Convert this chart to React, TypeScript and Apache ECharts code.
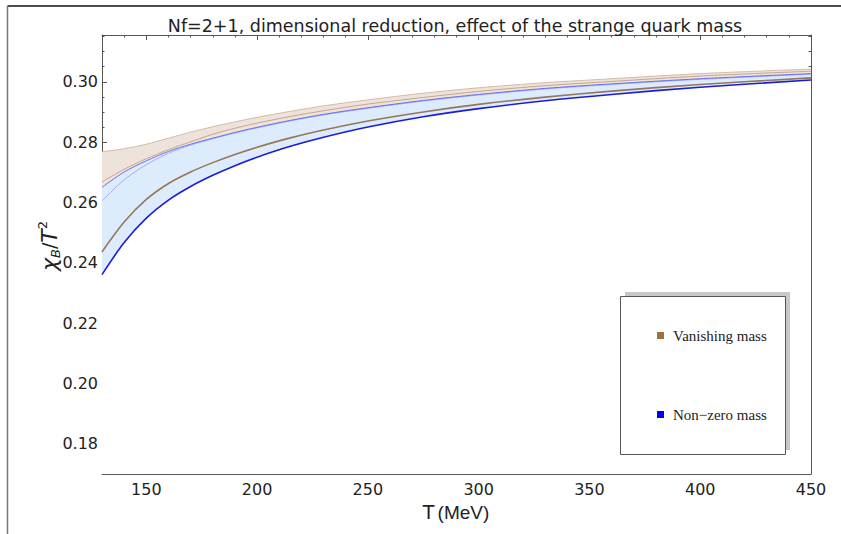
import React, { useEffect, useRef } from "react";
import * as echarts from "echarts";

// Temperature grid (MeV)
const T = [130, 140, 150, 160, 170, 180, 190, 200, 215, 230, 250, 275, 300, 330, 360, 400, 450];
// Vanishing strange-quark mass: upper edge, central, lower edge
const vanUpper = [0.2768, 0.2778, 0.2793, 0.2813, 0.2833, 0.2851, 0.2867, 0.2882, 0.2902, 0.2920, 0.2940, 0.2962, 0.2980, 0.2997, 0.3010, 0.3027, 0.3042];
const vanMid = [0.2668, 0.2710, 0.2745, 0.2775, 0.2801, 0.2826, 0.2846, 0.2863, 0.2885, 0.2904, 0.2926, 0.2948, 0.2968, 0.2987, 0.3001, 0.3019, 0.3035];
const vanLower = [0.2436, 0.2535, 0.2610, 0.2663, 0.2701, 0.2732, 0.2759, 0.2783, 0.2814, 0.2840, 0.2870, 0.2900, 0.2925, 0.2949, 0.2969, 0.2991, 0.3013];
// Non-zero strange-quark mass: upper edge, central, lower edge
const nzUpper = [0.2650, 0.2701, 0.2738, 0.2769, 0.2793, 0.2813, 0.2832, 0.2849, 0.2872, 0.2892, 0.2914, 0.2938, 0.2958, 0.2978, 0.2993, 0.3010, 0.3027];
const nzMid = [0.2605, 0.2675, 0.2725, 0.2763, 0.2790, 0.2811, 0.2830, 0.2847, 0.2870, 0.2890, 0.2912, 0.2936, 0.2956, 0.2976, 0.2991, 0.3008, 0.3025];
const nzLower = [0.2361, 0.2467, 0.2548, 0.2608, 0.2653, 0.2690, 0.2722, 0.2750, 0.2786, 0.2816, 0.2850, 0.2884, 0.2911, 0.2937, 0.2958, 0.2982, 0.3006];

const xMajor = [150, 200, 250, 300, 350, 400, 450];
const yMajor = [0.18, 0.2, 0.22, 0.24, 0.26, 0.28, 0.3];
const X_MIN = 130, X_MAX = 450, Y_MIN = 0.17, Y_MAX = 0.3155;

const legendItems = ["Vanishing mass", "Non\u2212zero mass"];
const TITLE = "Nf=2+1, dimensional reduction, effect of the strange quark mass";

const pairs = (ys: number[]) => T.map((t, i) => [t, ys[i]]);

const FRAME = "#555555";
const GRID = { left: 102, right: 30, top: 35, bottom: 60 };

export default function App() {
  const ref = useRef<HTMLDivElement>(null);
  useEffect(() => {
    document.body.style.margin = "0";
    const chart = echarts.init(ref.current!, null, { renderer: "svg" });
    const tickStyle = { color: FRAME, width: 1 };
    const majorAxisX = (pos: string, labels: boolean) => ({
      type: "value", gridIndex: 0, position: pos, min: X_MIN, max: X_MAX,
      axisLine: { show: true, onZero: false, lineStyle: { color: FRAME, width: 1 } },
      axisTick: { show: true, inside: true, length: 5, customValues: xMajor, lineStyle: tickStyle },
      axisLabel: labels
        ? { show: true, customValues: xMajor, margin: 7, fontSize: 16, color: "#222", fontFamily: "DejaVu Sans" }
        : { show: false },
      splitLine: { show: false },
    });
    const minorAxisX = (pos: string) => ({
      type: "value", gridIndex: 1, position: pos, min: X_MIN, max: X_MAX, interval: 10,
      axisLine: { show: false, onZero: false },
      axisTick: { show: true, inside: true, length: 2.5, lineStyle: tickStyle },
      axisLabel: { show: false }, splitLine: { show: false },
    });
    const majorAxisY = (pos: string, labels: boolean) => ({
      type: "value", gridIndex: 0, position: pos, min: Y_MIN, max: Y_MAX,
      axisLine: { show: true, onZero: false, lineStyle: { color: FRAME, width: 1 } },
      axisTick: { show: true, inside: true, length: 5, customValues: yMajor, lineStyle: tickStyle },
      axisLabel: labels
        ? { show: true, customValues: yMajor, margin: 4, fontSize: 16, color: "#222", fontFamily: "DejaVu Sans",
            formatter: (v: number) => v.toFixed(2) }
        : { show: false },
      splitLine: { show: false },
    });
    const minorAxisY = (pos: string) => ({
      type: "value", gridIndex: 1, position: pos, min: Y_MIN, max: Y_MAX, interval: 0.005,
      axisLine: { show: false, onZero: false },
      axisTick: { show: true, inside: true, length: 2.5, lineStyle: tickStyle },
      axisLabel: { show: false }, splitLine: { show: false },
    });

    const common = { type: "line", xAxisIndex: 0, yAxisIndex: 0, smooth: 0.3, symbol: "none", silent: true };
    const areaSeries = (data: number[], color: string, z: number) => ({
      ...common, data: pairs(data),
      lineStyle: { width: 0, opacity: 0 }, areaStyle: { color, opacity: 1, origin: "start" }, z,
    });
    const lineSeries = (data: number[], color: string, width: number, z: number) => ({
      ...common, data: pairs(data), lineStyle: { color, width }, z,
    });

    chart.setOption({
      animation: false,
      backgroundColor: "#ffffff",
      grid: [
        { ...GRID, containLabel: false },
        { ...GRID, containLabel: false },
      ],
      xAxis: [majorAxisX("bottom", true), majorAxisX("top", false), minorAxisX("bottom"), minorAxisX("top")],
      yAxis: [majorAxisY("left", true), majorAxisY("right", false), minorAxisY("left"), minorAxisY("right")],
      series: [
        areaSeries(vanUpper, "#eee3da", 1),
        areaSeries(nzUpper, "#dcecfd", 2),
        areaSeries(nzLower, "#ffffff", 3),
        lineSeries(vanUpper, "#d3bba8", 1, 5),
        lineSeries(vanMid, "#c6a68f", 1, 5),
        lineSeries(nzMid, "#a3acf4", 1, 6),
        lineSeries(nzUpper, "#6b6ff0", 1, 6),
        lineSeries(vanLower, "#977659", 1.6, 7),
        lineSeries(nzLower, "#1c1cd8", 1.6, 8),
      ],
      graphic: [
        { type: "line", shape: { x1: 7.5, y1: 6, x2: 841, y2: 6 }, style: { stroke: "#111", lineWidth: 1.5 }, z: 100 },
        { type: "line", shape: { x1: 7.5, y1: 6, x2: 7.5, y2: 534 }, style: { stroke: "#777", lineWidth: 1.5 }, z: 100 },
        {
          type: "text", x: 455, y: 26, z: 100,
          style: { text: TITLE, fontFamily: "DejaVu Sans", fontSize: 17.5, fill: "#222", align: "center", verticalAlign: "middle" },
        },
        {
          type: "text", x: 456, y: 512, z: 100,
          style: {
            text: "{a|T} {b|(MeV)}", align: "center", verticalAlign: "middle",
            rich: {
              a: { fontFamily: "DejaVu Sans", fontSize: 19, fill: "#222" },
              b: { fontFamily: "Liberation Sans", fontSize: 19, fill: "#222" },
            },
          },
        },
        {
          type: "text", x: 49, y: 246, rotation: Math.PI / 2, z: 100,
          style: {
            text: "{a|\u03c7}{b|B}{c|/}{d|T}{e|2}", align: "center", verticalAlign: "middle",
            rich: {
              a: { fontFamily: "DejaVu Sans", fontStyle: "italic", fontSize: 22, lineHeight: 26, fill: "#222" },
              b: { fontFamily: "DejaVu Sans", fontStyle: "italic", fontSize: 13, lineHeight: 13, verticalAlign: "bottom", fill: "#222" },
              c: { fontFamily: "DejaVu Sans", fontSize: 19, lineHeight: 26, fill: "#222" },
              d: { fontFamily: "DejaVu Sans", fontStyle: "italic", fontSize: 22, lineHeight: 26, fill: "#222" },
              e: { fontFamily: "DejaVu Sans", fontSize: 13, lineHeight: 13, verticalAlign: "top", fill: "#222" },
            },
          },
        },
        { type: "rect", shape: { x: 625, y: 292, width: 165, height: 158 }, style: { fill: "#c8c8c8" }, z: 100 },
        { type: "rect", shape: { x: 620.5, y: 296.5, width: 165, height: 158 }, style: { fill: "#ffffff", stroke: "#555", lineWidth: 1 }, z: 101 },
        { type: "rect", shape: { x: 657, y: 332, width: 7, height: 7 }, style: { fill: "#a0703f" }, z: 102 },
        { type: "rect", shape: { x: 657, y: 411, width: 7, height: 7 }, style: { fill: "#0000ff" }, z: 102 },
        {
          type: "text", x: 673, y: 336, z: 102,
          style: { text: legendItems[0], fontFamily: "Liberation Serif", fontSize: 15, fill: "#222", verticalAlign: "middle" },
        },
        {
          type: "text", x: 673, y: 415, z: 102,
          style: { text: legendItems[1], fontFamily: "Liberation Serif", fontSize: 15, fill: "#222", verticalAlign: "middle" },
        },
      ],
    });
    return () => chart.dispose();
  }, []);
  return <div ref={ref} style={{ width: 841, height: 534 }} />;
}
